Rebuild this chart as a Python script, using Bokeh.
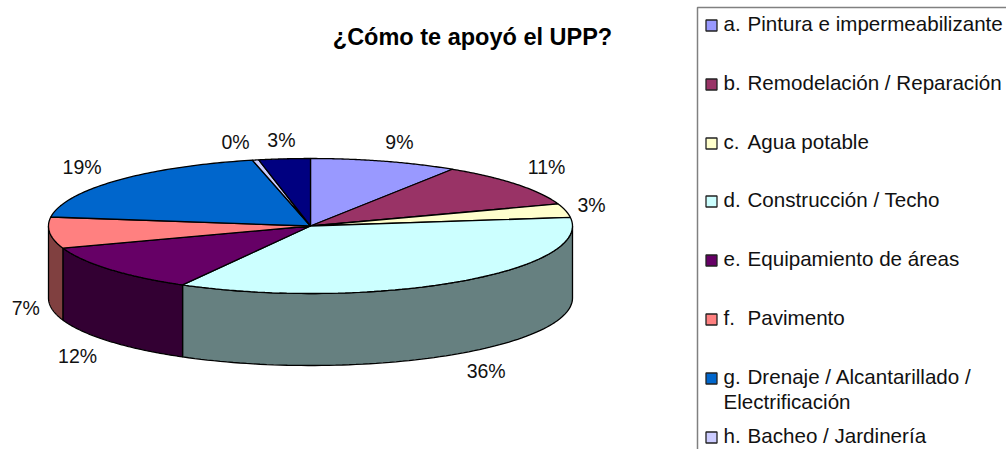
import numpy as np
from bokeh.embed import file_html
from bokeh.models import Range1d
from bokeh.plotting import figure
from bokeh.resources import INLINE
from bokeh.core.properties import value

# --- data ---
title = "¿Cómo te apoyó el UPP?"
letters = ["a.", "b.", "c.", "d.", "e.", "f.", "g.", "h."]
names = ["Pintura e impermeabilizante", "Remodelación / Reparación", "Agua potable",
         "Construcción / Techo", "Equipamiento de áreas", "Pavimento",
         "Drenaje / Alcantarillado /", "Bacheo / Jardinería"]
values = [9.2, 10.7, 3.3, 35.5, 11.7, 7.5, 19.5, 0.4, 3.2]
labels = ["9%", "11%", "3%", "36%", "12%", "7%", "19%", "0%", "3%"]
colors = ["#9999FF", "#993366", "#FFFFCC", "#CCFFFF", "#660066", "#FF8080", "#0066CC", "#CCCCFF", "#000080"]
side_colors = ["#4D4D80", "#4D1A33", "#808066", "#668080", "#330033", "#804040", "#003366", "#666680", "#000040"]

# --- layout (page pixels) ---
CX, CY, RX, RY, DEPTH = 310, 225.5, 262, 67.5, 72
label_nudge = [(15, -19), (30, -17), (26, -6), (29, 89), (-32, 87), (-24, 75), (-35, -13), (-20, -18), (-3, -19)]
legend_left, legend_top = 697, 7
legend_ys = [25, 84, 143, 201, 260, 319, 378, 437]
FONT = "Liberation Sans"

p = figure(width=1006, height=449, x_range=Range1d(0, 1006), y_range=Range1d(449, 0),
           toolbar_location=None, output_backend="svg", min_border=0, outline_line_color=None)
p.axis.visible = False
p.grid.visible = False


def rim(t):
    return CX + RX * np.sin(t), CY - RY * np.cos(t)


edges = np.cumsum([0] + values) / sum(values) * 2 * np.pi
for i in range(len(values)):
    a, b = edges[i], edges[i + 1]
    lo, hi = max(a, np.pi / 2), min(b, 3 * np.pi / 2)
    if hi > lo:
        t = np.linspace(lo, hi, 80)
        x, y = rim(t)
        p.patch(np.r_[x, x[::-1]], np.r_[y, y[::-1] + DEPTH], fill_color=side_colors[i],
                line_color="black", line_width=1.3)
for i in range(len(values)):
    t = np.linspace(edges[i], edges[i + 1], 80)
    x, y = rim(t)
    p.patch(np.r_[CX, x], np.r_[CY, y], fill_color=colors[i], line_color="black", line_width=1.3)

mids = (edges[:-1] + edges[1:]) / 2
mx, my = rim(mids)
p.text(mx + [n[0] for n in label_nudge], my + [n[1] for n in label_nudge], text=labels,
       text_font=value(FONT), text_font_size="19.5px", text_color="#111111",
       text_align="center", text_baseline="middle")

p.text([472], [36], text=[title], text_font=value(FONT), text_font_size="23.5px",
       text_font_style="bold", text_color="black", text_align="center", text_baseline="middle")

p.quad(left=[legend_left], right=[1030], top=[legend_top], bottom=[470],
       fill_color="white", line_color="#808080", line_width=1.5)
p.rect([711] * 8, legend_ys, width=11, height=11, fill_color=colors[:8], line_color="#222222", line_width=1.3)
text_ys = [y - 2 for y in legend_ys]
p.text([723] * 8, text_ys, text=letters, text_font=value(FONT), text_font_size="20.6px",
       text_color="#111111", text_baseline="middle")
p.text([747] * 8, text_ys, text=names, text_font=value(FONT), text_font_size="20.6px",
       text_color="#111111", text_baseline="middle")
p.text([723], [401], text=["Electrificación"], text_font=value(FONT), text_font_size="20.6px",
       text_color="#111111", text_baseline="middle")

open("out.html", "w").write(file_html(p, INLINE))
